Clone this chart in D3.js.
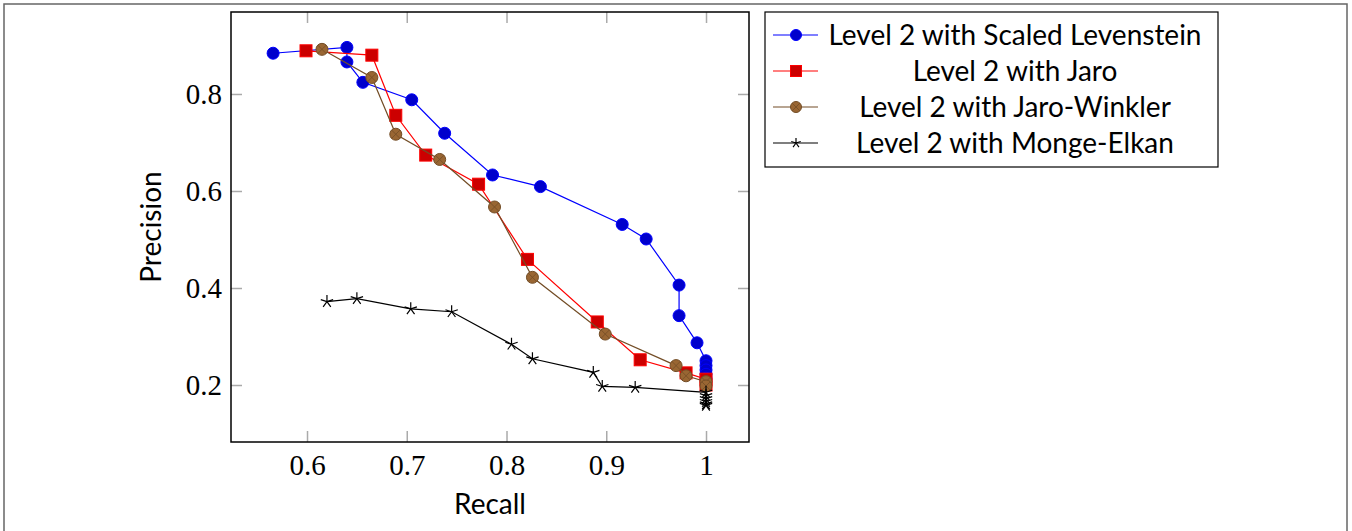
<!DOCTYPE html>
<html>
<head>
<meta charset="utf-8">
<script src="https://cdn.jsdelivr.net/npm/d3@7"></script>
<style>
  body { margin: 0; background: #fff; }
  svg { display: block; }
</style>
</head>
<body>
<svg id="chart" width="1352" height="531"></svg>
<script>
// ---- data ----
const xTicks = [0.6, 0.7, 0.8, 0.9, 1];
const yTicks = [0.2, 0.4, 0.6, 0.8];

const seriesNames = [
  "Level 2 with Scaled Levenstein",
  "Level 2 with Jaro",
  "Level 2 with Jaro-Winkler",
  "Level 2 with Monge-Elkan"
];

const levRecall    = [0.566, 0.640, 0.640, 0.656, 0.705, 0.738, 0.786, 0.834, 0.916, 0.940, 0.973, 0.973, 0.991, 1, 1, 1, 1, 1];
const levPrecision = [0.884, 0.896, 0.866, 0.824, 0.788, 0.719, 0.633, 0.609, 0.531, 0.501, 0.406, 0.343, 0.287, 0.250, 0.240, 0.231, 0.222, 0.214];

const jaroRecall    = [0.599, 0.665, 0.689, 0.719, 0.772, 0.821, 0.891, 0.934, 0.980, 1, 1];
const jaroPrecision = [0.889, 0.880, 0.756, 0.674, 0.614, 0.459, 0.330, 0.252, 0.225, 0.212, 0.200];

const jwRecall    = [0.615, 0.665, 0.689, 0.733, 0.788, 0.826, 0.899, 0.970, 0.980, 1, 1];
const jwPrecision = [0.892, 0.834, 0.717, 0.665, 0.567, 0.422, 0.305, 0.240, 0.219, 0.207, 0.198];

const meRecall    = [0.620, 0.650, 0.704, 0.745, 0.805, 0.826, 0.887, 0.896, 0.929, 1, 1, 1, 1, 1, 1];
const mePrecision = [0.372, 0.378, 0.357, 0.351, 0.284, 0.254, 0.226, 0.197, 0.195, 0.185, 0.178, 0.172, 0.166, 0.161, 0.158];

// ---- styles ----
const styles = [
  { line: "#0000ff", fill: "#0000cc", stroke: "#0000ff", mark: "circle" },
  { line: "#ff0000", fill: "#cc0000", stroke: "#ff0000", mark: "square" },
  { line: "#734d26", fill: "#996633", stroke: "#734d26", mark: "otimes" },
  { line: "#000000", fill: "none",    stroke: "#000000", mark: "star" }
];

const series = [
  { name: seriesNames[0], x: levRecall,  y: levPrecision },
  { name: seriesNames[1], x: jaroRecall, y: jaroPrecision },
  { name: seriesNames[2], x: jwRecall,   y: jwPrecision },
  { name: seriesNames[3], x: meRecall,   y: mePrecision }
].map((s, i) => Object.assign(s, styles[i], { pts: s.x.map((v, j) => [v, s.y[j]]) }));

const svg = d3.select("#chart");
const L = 231, R = 749, T = 12, B = 442;

const x = d3.scaleLinear().domain([0.5238, 1.0431]).range([L, R]);
const y = d3.scaleLinear().domain([0.0825, 0.969]).range([B, T]);

// outer gray frame
svg.append("rect").attr("x", 4).attr("y", 4).attr("width", 1343).attr("height", 560)
  .attr("fill", "none").attr("stroke", "#666").attr("stroke-width", 1.5);

const tickLen = 11;
const tickColor = "#aaa";
const serif = "'Liberation Serif', 'DejaVu Serif', serif";
const sans = "Lato, 'Open Sans', sans-serif";

function styleAxis(g) {
  g.select(".domain").remove();
  g.selectAll(".tick line").attr("stroke", tickColor).attr("stroke-width", 1.5);
  g.selectAll(".tick text").attr("fill", "#000").style("font-family", serif).style("font-size", "29px");
}

const fmt = d => String(d);

svg.append("g").attr("transform", `translate(0,${B})`)
  .call(d3.axisBottom(x).tickValues(xTicks).tickFormat(fmt).tickSize(-tickLen).tickPadding(12))
  .call(styleAxis);
svg.append("g").attr("transform", `translate(0,${T})`)
  .call(d3.axisTop(x).tickValues(xTicks).tickFormat("").tickSize(-tickLen))
  .call(styleAxis);
svg.append("g").attr("transform", `translate(${L},0)`)
  .call(d3.axisLeft(y).tickValues(yTicks).tickFormat(fmt).tickSize(-tickLen).tickPadding(9))
  .call(styleAxis);
svg.append("g").attr("transform", `translate(${R},0)`)
  .call(d3.axisRight(y).tickValues(yTicks).tickFormat("").tickSize(-tickLen))
  .call(styleAxis);

// plot frame
svg.append("rect").attr("x", L).attr("y", T).attr("width", R - L).attr("height", B - T)
  .attr("fill", "none").attr("stroke", "#000").attr("stroke-width", 1.5);

// axis labels
svg.append("text").attr("x", (L + R) / 2).attr("y", 514).attr("text-anchor", "middle")
  .style("font-family", sans).style("font-size", "28px").text("Recall");
svg.append("text").attr("transform", "translate(161,227) rotate(-90)").attr("text-anchor", "middle")
  .style("font-family", sans).style("font-size", "28px").text("Precision");

// markers
const MS = 6;
function drawMarker(g, s, cx, cy, size) {
  if (s.mark === "circle") {
    g.append("circle").attr("cx", cx).attr("cy", cy).attr("r", size)
      .attr("fill", s.fill).attr("stroke", s.stroke).attr("stroke-width", 1);
  } else if (s.mark === "square") {
    g.append("rect").attr("x", cx - size).attr("y", cy - size).attr("width", 2 * size).attr("height", 2 * size)
      .attr("fill", s.fill).attr("stroke", s.stroke).attr("stroke-width", 1);
  } else if (s.mark === "otimes") {
    g.append("circle").attr("cx", cx).attr("cy", cy).attr("r", size)
      .attr("fill", s.fill).attr("stroke", s.stroke).attr("stroke-width", 1);
    const d = size * 0.707;
    g.append("path").attr("d", `M${cx - d},${cy - d}L${cx + d},${cy + d}M${cx - d},${cy + d}L${cx + d},${cy - d}`)
      .attr("stroke", s.stroke).attr("stroke-width", 0.8).attr("fill", "none");
  } else if (s.mark === "star") {
    let p = "";
    for (let k = 0; k < 5; k++) {
      const a = (90 + 72 * k) * Math.PI / 180;
      p += `M${cx},${cy}L${cx + size * Math.cos(a)},${cy - size * Math.sin(a)}`;
    }
    g.append("path").attr("d", p).attr("stroke", s.stroke).attr("stroke-width", 1.2).attr("fill", "none");
  }
}

const line = d3.line().x(d => x(d[0])).y(d => y(d[1]));
series.forEach(s => {
  const g = svg.append("g");
  g.append("path").attr("d", line(s.pts)).attr("fill", "none").attr("stroke", s.line).attr("stroke-width", 1.2);
  s.pts.forEach(p => drawMarker(g, s, x(p[0]), y(p[1]), s.mark === "star" ? 6.5 : MS));
});

// legend
const lg = svg.append("g");
lg.append("rect").attr("x", 765).attr("y", 12).attr("width", 453).attr("height", 155)
  .attr("fill", "#fff").attr("stroke", "#000").attr("stroke-width", 1.2);
series.forEach((s, i) => {
  const cy = 35 + i * 36;
  lg.append("line").attr("x1", 773).attr("x2", 818).attr("y1", cy).attr("y2", cy)
    .attr("stroke", s.line).attr("stroke-width", 1.2);
  drawMarker(lg, s, 796, cy, s.mark === "star" ? 5 : 5.5);
  lg.append("text").attr("x", 1015).attr("y", cy).attr("dy", "0.36em").attr("text-anchor", "middle")
    .style("font-family", sans).style("font-size", "28px").text(s.name);
});
</script>
</body>
</html>
